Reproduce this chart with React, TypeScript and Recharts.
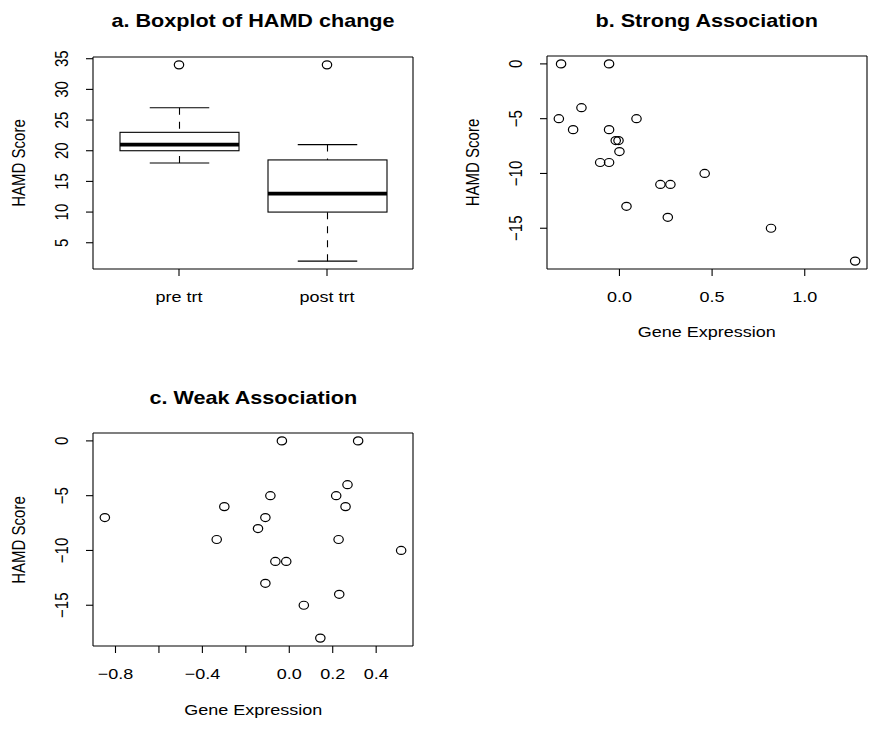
import React from 'react';
import { ComposedChart, ScatterChart, Scatter, Bar, XAxis, YAxis } from 'recharts';

const FONT = '"Liberation Sans", Arial, Helvetica, sans-serif';
// the source picture is a little wider than tall, so text is stretched sideways
const STRETCH = 1.2;

// a. boxplot of HAMD scores, five-number summaries
const groups = ['pre trt', 'post trt'];
const whiskerLow = [18, 2];
const q1 = [20, 10];
const median = [21, 13];
const q3 = [23, 18.5];
const whiskerHigh = [27, 21];
const outliers = [34, 34];
const boxTicks = [5, 10, 15, 20, 25, 30, 35];

// b. strong association
const strongGene = [-0.315, -0.056, -0.205, -0.327, 0.092, -0.25, -0.056, -0.02, -0.005, 0.0, -0.104, -0.056, 0.46, 0.221, 0.275, 0.038, 0.261, 0.818, 1.272];
const strongHamd = [0, 0, -4, -5, -5, -6, -6, -7, -7, -8, -9, -9, -10, -11, -11, -13, -14, -15, -18];

// c. weak association
const weakGene = [-0.849, -0.299, -0.334, -0.034, 0.317, -0.087, -0.11, -0.144, -0.064, -0.014, -0.11, 0.067, 0.143, 0.216, 0.268, 0.259, 0.227, 0.23, 0.515];
const weakHamd = [-7, -6, -9, 0, 0, -5, -7, -8, -11, -11, -13, -15, -18, -5, -4, -6, -9, -14, -10];

const scoreTicks = [0, -5, -10, -15];
const strongTicks = [0, 0.5, 1];
const weakTicks = [-0.8, -0.6, -0.4, -0.2, 0, 0.2, 0.4];
const weakLabelled = [-0.8, -0.4, 0, 0.2, 0.4];

// R style axis range: data range widened by 4% each side
const padRange = (v: number[]): [number, number] => {
  const lo = Math.min(...v);
  const hi = Math.max(...v);
  const d = (hi - lo) * 0.04;
  return [lo - d, hi + d];
};

const boxData = groups.map((g, i) => ({
  group: g,
  range: [whiskerLow[i], whiskerHigh[i]],
  lo: whiskerLow[i],
  hi: whiskerHigh[i],
  q1: q1[i],
  med: median[i],
  q3: q3[i],
  outlier: outliers[i],
}));
const strongData = strongGene.map((x, i) => ({ x, y: strongHamd[i] }));
const weakData = weakGene.map((x, i) => ({ x, y: weakHamd[i] }));

const minus = (s: string) => s.replace('-', '\u2212');

const XTick = ({ x, y, payload, fmt }: any) => (
  <text
    transform={`translate(${x},${y + 25.5}) scale(${STRETCH},1)`}
    textAnchor="middle"
    fontSize={15}
    fontFamily={FONT}
    fill="#000"
  >
    {fmt ? fmt(payload.value) : payload.value}
  </text>
);

const YTick = ({ x, y, payload }: any) => (
  <text
    transform={`translate(${x - 17.7},${y}) scale(${STRETCH},1) rotate(-90)`}
    textAnchor="middle"
    fontSize={15}
    fontFamily={FONT}
    fill="#000"
  >
    {minus(String(payload.value))}
  </text>
);

const Ring = (p: any) => (
  <ellipse cx={p.cx} cy={p.cy} rx={4.7} ry={4} fill="none" stroke="#000" strokeWidth={1.2} />
);

// draws one box + whiskers, positions taken from the range bar the library laid out
function BoxShape(props: any) {
  const { x, y, width, height } = props;
  const d = props.payload ?? props;
  const k = height / (d.hi - d.lo);
  const py = (v: number) => y + (d.hi - v) * k;
  const cx = x + width / 2;
  const cap = width / 4;
  return (
    <g stroke="#000" fill="none" strokeWidth={1.1}>
      <line x1={cx} x2={cx} y1={py(d.hi)} y2={py(d.q3)} strokeDasharray="7 7" />
      <line x1={cx} x2={cx} y1={py(d.lo)} y2={py(d.q1)} strokeDasharray="7 7" />
      <line x1={cx - cap} x2={cx + cap} y1={py(d.hi)} y2={py(d.hi)} />
      <line x1={cx - cap} x2={cx + cap} y1={py(d.lo)} y2={py(d.lo)} />
      <rect x={x} y={py(d.q3)} width={width} height={py(d.q1) - py(d.q3)} fill="#fff" />
      <line x1={x} x2={x + width} y1={py(d.med)} y2={py(d.med)} strokeWidth={3.6} />
    </g>
  );
}

const frame = { stroke: '#000', strokeWidth: 1.1 };

// top and right axes (1px thick, no ticks) only draw the remaining two sides of the box
const boxFrame = () => [
  <XAxis key="t" xAxisId="top" orientation="top" type="number" domain={[0, 1]} height={1} tick={false} tickLine={false} axisLine={frame} />,
  <YAxis key="r" yAxisId="right" orientation="right" type="number" domain={[0, 1]} width={1} tick={false} tickLine={false} axisLine={frame} />,
];

const Txt = ({ x, y, size, bold, rotate, children }: any) => (
  <text
    transform={`translate(${x},${y}) scale(${STRETCH},1)${rotate ? ' rotate(-90)' : ''}`}
    textAnchor="middle"
    fontSize={size}
    fontWeight={bold ? 700 : 400}
    fontFamily={FONT}
    fill="#000"
  >
    {children}
  </text>
);

// plot box is 320 x 213; the wrapper places the chart so its top-left corner sits right
function ScorePanel({ data, gene, ticks, fmt }: any) {
  return (
    <ScatterChart width={414} height={254} margin={{ top: 0, right: 0, bottom: 0, left: 0 }}>
      <XAxis
        dataKey="x"
        type="number"
        domain={padRange(gene)}
        allowDataOverflow
        ticks={ticks}
        interval={0}
        tickSize={7}
        tickMargin={0}
        tick={<XTick fmt={fmt} />}
        axisLine={frame}
        tickLine={frame}
        height={40}
      />
      <YAxis
        dataKey="y"
        type="number"
        domain={padRange([...strongHamd, ...weakHamd])}
        allowDataOverflow
        ticks={scoreTicks}
        interval={0}
        tickSize={7}
        tickMargin={0}
        tick={<YTick />}
        axisLine={frame}
        tickLine={frame}
        width={93}
      />
      {boxFrame()}
      <Scatter data={data} shape={<Ring />} isAnimationActive={false} />
    </ScatterChart>
  );
}

export default function App() {
  const fmtStrong = (v: number) => v.toFixed(1);
  const fmtWeak = (v: number) =>
    weakLabelled.some((w) => Math.abs(w - v) < 1e-9) ? minus(v.toFixed(1)) : '';

  return (
    <div style={{ position: 'absolute', left: 0, top: 0, width: 873, height: 731, background: '#fff' }}>
      {/* a. boxplot */}
      <div style={{ position: 'absolute', left: 0, top: 0 }}>
        <ComposedChart width={440} height={340} data={boxData} margin={{ top: 56, right: 26, bottom: 31, left: 0 }}>
          <XAxis
            dataKey="group"
            type="category"
            padding={{ left: 12, right: 12 }}
            interval={0}
            tickSize={7}
            tickMargin={0}
            tick={<XTick />}
            axisLine={frame}
            tickLine={frame}
            height={40}
          />
          <YAxis
            type="number"
            domain={padRange([...whiskerLow, ...whiskerHigh, ...outliers])}
            allowDataOverflow
            ticks={boxTicks}
            interval={0}
            tickSize={7}
            tickMargin={0}
            tick={<YTick />}
            axisLine={frame}
            tickLine={frame}
            width={93}
          />
          {boxFrame()}
          <Bar dataKey="range" barSize={119} shape={<BoxShape />} isAnimationActive={false} />
          <Scatter dataKey="outlier" shape={<Ring />} isAnimationActive={false} />
        </ComposedChart>
      </div>

      {/* b. strong association */}
      <div style={{ position: 'absolute', left: 453.7, top: 55 }}>
        <ScorePanel data={strongData} gene={strongGene} ticks={strongTicks} fmt={fmtStrong} />
      </div>

      {/* c. weak association */}
      <div style={{ position: 'absolute', left: 0.3, top: 432.3 }}>
        <ScorePanel data={weakData} gene={weakGene} ticks={weakTicks} fmt={fmtWeak} />
      </div>

      <svg width={873} height={731} style={{ position: 'absolute', left: 0, top: 0, pointerEvents: 'none' }}>
        <Txt x={253} y={26.7} size={18} bold>a. Boxplot of HAMD change</Txt>
        <Txt x={706.7} y={27} size={18} bold>b. Strong Association</Txt>
        <Txt x={253.3} y={404} size={18} bold>c. Weak Association</Txt>
        <Txt x={25} y={163} size={15} rotate>HAMD Score</Txt>
        <Txt x={478.7} y={162.5} size={15} rotate>HAMD Score</Txt>
        <Txt x={25.3} y={540} size={15} rotate>HAMD Score</Txt>
        <Txt x={706.7} y={336.7} size={15}>Gene Expression</Txt>
        <Txt x={253.3} y={715} size={15}>Gene Expression</Txt>
      </svg>
    </div>
  );
}
